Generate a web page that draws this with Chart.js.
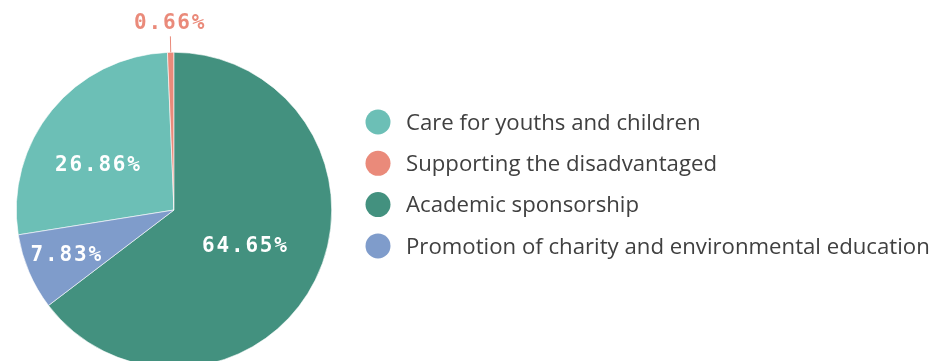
<!DOCTYPE html>
<html>
<head>
<meta charset="utf-8">
<script src="https://cdn.jsdelivr.net/npm/chart.js@4/dist/chart.umd.min.js"></script>
<style>
    html, body { margin: 0; padding: 0; background: #fff; overflow: hidden; width: 938px; height: 361px; }
    #wrap { position: relative; width: 938px; height: 420px; }
</style>
</head>
<body>
<div id="wrap"><canvas id="donationChart"></canvas></div>
<script>
// Share of funds by programme (%)
const categories = [
    'Care for youths and children',
    'Supporting the disadvantaged',
    'Academic sponsorship',
    'Promotion of charity and environmental education'
];
const shares = [26.86, 0.66, 64.65, 7.83];
const sliceColors = ['#6cbfb6', '#ea8a7a', '#43917f', '#7f9ccb'];

// label distance from centre (fraction of radius) and a small angle nudge (deg)
const labelRadius = [0.555, 1, 0.51, 0.74];
const labelNudge = [-9, 0, 1, 0];

// start so that "Academic sponsorship" begins at 12 o'clock
const startAngle = -(shares[0] + shares[1]) * 3.6;

const sliceLabels = {
    id: 'sliceLabels',
    afterDatasetsDraw(chart) {
        const ctx = chart.ctx;
        const arcs = chart.getDatasetMeta(0).data;
        ctx.save();
        ctx.font = 'bold 21px "DejaVu Sans Mono"';
        ctx.letterSpacing = '1.8px';
        ctx.textAlign = 'center';
        ctx.textBaseline = 'middle';
        arcs.forEach((arc, i) => {
            const mid = (arc.startAngle + arc.endAngle) / 2 + labelNudge[i] * Math.PI / 180;
            const text = shares[i].toFixed(2) + '%';
            if (shares[i] < 2) {
                // tiny slice: label outside with a leader line
                const x = arc.x + Math.cos(mid) * arc.outerRadius;
                const y = arc.y + Math.sin(mid) * arc.outerRadius;
                ctx.strokeStyle = sliceColors[i];
                ctx.lineWidth = 1;
                ctx.beginPath();
                ctx.moveTo(x, y);
                ctx.lineTo(x + Math.cos(mid) * 16, y + Math.sin(mid) * 16);
                ctx.stroke();
                ctx.fillStyle = sliceColors[i];
                ctx.fillText(text, x + Math.cos(mid) * 29, y + Math.sin(mid) * 29);
            } else {
                const r = arc.outerRadius * labelRadius[i];
                ctx.fillStyle = '#ffffff';
                ctx.fillText(text, arc.x + Math.cos(mid) * r, arc.y + Math.sin(mid) * r);
            }
        });
        ctx.restore();
    }
};

const sideLegend = {
    id: 'sideLegend',
    afterDraw(chart) {
        const ctx = chart.ctx;
        ctx.save();
        ctx.font = '22.2px "Open Sans"';
        ctx.textAlign = 'left';
        ctx.textBaseline = 'middle';
        categories.forEach((name, i) => {
            const y = 122 + i * 41.3;
            ctx.fillStyle = sliceColors[i];
            ctx.beginPath();
            ctx.arc(378, y, 12.5, 0, Math.PI * 2);
            ctx.fill();
            ctx.fillStyle = '#404040';
            ctx.fillText(name, 406, y + 1.5);
        });
        ctx.restore();
    }
};

new Chart(document.getElementById('donationChart'), {
    type: 'pie',
    data: {
        labels: categories,
        datasets: [{
            data: shares,
            backgroundColor: sliceColors,
            borderColor: '#ffffff',
            borderWidth: 0.6
        }]
    },
    options: {
        responsive: true,
        maintainAspectRatio: false,
        animation: false,
        rotation: startAngle,
        layout: {
            padding: { left: 16, right: 606, top: 52, bottom: 52 }
        },
        plugins: {
            legend: { display: false },
            tooltip: { enabled: false }
        }
    },
    plugins: [sliceLabels, sideLegend]
});
</script>
</body>
</html>
